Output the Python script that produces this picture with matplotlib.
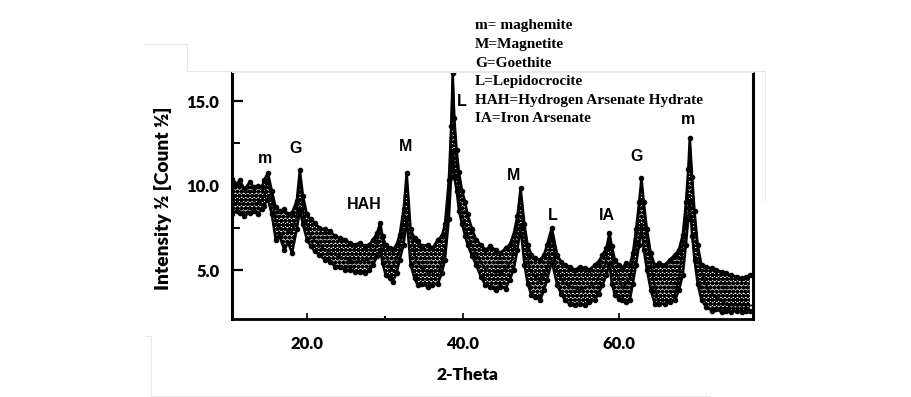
import matplotlib
matplotlib.use('Agg')
import matplotlib.pyplot as plt
from matplotlib.lines import Line2D

# XRD scan: 2-theta, upper and lower edge of the point cloud
theta = [10.4, 11.0, 11.4, 12.0, 12.7, 13.2, 13.7, 14.2, 14.5, 15.0, 15.5, 16.0, 16.5, 17.1, 17.6,
         18.1, 18.7, 19.1, 19.5, 20.0, 20.5, 21.0, 21.6, 22.3, 23.0, 23.6, 24.2, 24.9, 25.5, 26.2,
         26.8, 27.4, 28.0, 28.5, 29.0, 29.4, 29.7, 30.1, 30.6, 31.0, 31.5, 31.9, 32.4, 32.8, 33.3,
         33.8, 34.2, 34.8, 35.5, 36.1, 36.8, 37.3, 37.7, 38.2, 38.5, 38.7, 38.9, 39.2, 39.5, 39.9,
         40.3, 40.6, 41.2, 41.7, 42.3, 42.9, 43.5, 44.2, 44.8, 45.5, 46.0, 46.5, 47.0, 47.4, 47.9,
         48.3, 48.8, 49.3, 49.9, 50.4, 50.8, 51.4, 52.1, 52.6, 53.1, 53.7, 54.4, 55.0, 55.6, 56.2,
         56.9, 57.4, 57.9, 58.4, 58.8, 59.1, 59.5, 60.0, 60.4, 60.9, 61.4, 61.8, 62.2, 62.6, 62.9,
         63.2, 63.6, 64.1, 64.6, 65.2, 65.9, 66.5, 67.2, 67.7, 68.2, 68.6, 68.9, 69.1, 69.4, 69.7,
         70.1, 70.6, 71.2, 71.9, 72.5, 73.2, 73.8, 74.4, 75.1, 75.8, 76.3, 76.8]
obs_hi = [10.4, 10.1, 10.3, 9.8, 10.2, 9.9, 10.0, 9.9, 10.3, 10.75, 9.7, 8.7, 8.5, 8.6, 8.3,
          8.4, 9.1, 10.9, 9.4, 8.3, 8.0, 7.8, 7.5, 7.4, 7.3, 7.0, 6.9, 6.8, 6.6, 6.5,
          6.6, 6.4, 6.5, 6.8, 7.2, 7.8, 7.0, 6.5, 6.3, 6.2, 6.5, 7.1, 8.6, 10.75, 7.4,
          6.9, 6.7, 6.4, 6.5, 6.3, 6.8, 7.0, 7.7, 10.3, 13.5, 16.65, 14.0, 12.1, 10.8, 9.7,
          9.0, 8.3, 7.4, 6.8, 6.5, 6.2, 6.4, 6.2, 6.0, 6.3, 6.5, 7.1, 8.2, 9.85, 7.7,
          6.5, 5.9, 5.7, 5.6, 5.9, 6.5, 7.5, 5.9, 5.5, 5.3, 5.2, 5.0, 5.2, 5.1, 5.0,
          5.3, 5.5, 5.9, 6.3, 7.2, 6.4, 5.6, 5.3, 5.1, 5.4, 5.3, 6.0, 7.4, 9.0, 10.45,
          9.0, 7.4, 6.0, 5.3, 5.4, 5.3, 5.6, 5.9, 6.2, 7.1, 9.0, 11.0, 12.8, 10.5, 8.5,
          6.5, 5.3, 5.2, 5.1, 5.0, 4.9, 4.8, 4.7, 4.6, 4.5, 4.6, 4.7]
obs_lo = [8.3, 8.5, 8.4, 8.2, 8.4, 8.5, 8.3, 8.6, 8.8, 9.2, 8.3, 6.8, 7.0, 6.2, 6.6,
          6.0, 7.4, 8.5, 7.7, 6.8, 6.4, 6.1, 5.9, 5.6, 5.5, 5.2, 5.2, 5.0, 5.0, 4.9,
          4.9, 4.8, 5.0, 5.3, 5.8, 6.2, 5.4, 4.7, 4.5, 4.3, 4.8, 5.6, 6.5, 8.0, 5.3,
          4.5, 4.1, 4.2, 4.0, 4.1, 4.2, 4.8, 5.6, 8.0, 10.5, 12.0, 10.5, 9.7, 8.5, 7.7,
          7.0, 6.5, 5.8, 5.3, 4.6, 4.1, 4.0, 3.8, 4.0, 3.9, 4.4, 5.0, 6.2, 7.5, 5.3,
          4.2, 3.5, 3.4, 3.2, 3.8, 4.4, 5.5, 4.1, 3.6, 3.2, 3.0, 2.9, 3.0, 2.9, 3.1,
          3.2, 3.6, 4.1, 4.7, 5.3, 4.2, 3.5, 3.3, 3.2, 3.1, 3.2, 4.2, 5.3, 6.5, 7.5,
          6.2, 5.0, 3.8, 3.0, 3.0, 3.0, 3.1, 3.2, 3.8, 4.7, 6.5, 8.0, 9.0, 7.0, 5.6,
          4.2, 3.2, 2.8, 2.6, 2.7, 2.5, 2.6, 2.5, 2.6, 2.5, 2.6, 2.6]

# fitted profile
fit_theta = [10.4, 12.7, 14.0, 14.6, 15.0, 15.6, 16.2, 18.0, 18.7, 19.1, 19.6, 20.5, 22.0, 24.0,
             26.0, 28.0, 28.9, 29.4, 29.9, 30.8, 31.8, 32.4, 32.8, 33.2, 34.0, 35.5, 37.0, 37.8,
             38.3, 38.7, 39.1, 39.6, 40.5, 41.7, 43.0, 45.0, 46.3, 47.0, 47.4, 47.8, 48.6, 49.9,
             50.9, 51.4, 51.9, 53.0, 55.0, 57.0, 58.3, 58.8, 59.3, 60.5, 61.5, 62.3, 62.9, 63.5,
             64.5, 65.0, 67.0, 67.7, 68.6, 69.1, 69.6, 70.5, 71.5, 72.7, 74.0, 77.0]
fit_int = [9.0, 8.9, 9.0, 9.5, 10.4, 8.9, 7.6, 7.2, 8.2, 10.7, 8.2, 7.0, 6.3, 5.8,
           5.5, 5.6, 6.4, 7.6, 6.2, 5.0, 6.0, 8.0, 10.6, 7.6, 5.5, 4.8, 5.0, 6.5,
           10.5, 16.5, 12.0, 9.0, 7.2, 5.9, 5.0, 4.8, 5.6, 7.6, 9.7, 7.5, 5.0, 4.3,
           5.2, 7.3, 5.2, 4.2, 3.8, 4.2, 5.4, 7.0, 5.2, 3.9, 4.6, 7.0, 10.3, 7.0,
           4.3, 3.2, 3.2, 4.5, 8.0, 12.6, 8.5, 5.0, 3.8, 3.3, 2.9, 2.9]

peak_labels = ['m', 'G', 'HAH', 'M', 'L', 'M', 'L', 'IA', 'G', 'm']
label_x = [14.6, 18.6, 27.4, 32.6, 39.9, 46.5, 51.5, 58.5, 62.3, 68.85]
label_y = [11.6, 12.2, 8.85, 12.3, 14.95, 10.6, 8.25, 8.25, 11.7, 13.9]

legend_lines = ['m= maghemite', 'M=Magnetite', 'G=Goethite', 'L=Lepidocrocite',
                'HAH=Hydrogen Arsenate Hydrate', 'IA=Iron Arsenate']

plt.rcParams['hatch.linewidth'] = 1.6

fig = plt.figure(figsize=(9.12, 3.97), dpi=100)
ax = fig.add_axes([232 / 912, 78 / 397, 521 / 912, 247 / 397])

# dense cloud of measured points: hatched band between the edges
ax.fill_between(theta, obs_lo, obs_hi, facecolor='white', edgecolor='black',
                hatch='oooo', lw=0)
ax.plot(theta, obs_hi, color='black', lw=1.8, marker='o', ms=3)
ax.plot(theta, obs_lo, color='black', lw=1.8, marker='o', ms=3)
ax.plot(fit_theta, fit_int, color='black', lw=1.3)

ax.set_xlim(10.4, 77.2)
ax.set_ylim(2.1, 16.72)
ax.set_xticks([20, 40, 60])
ax.set_xticklabels(['20.0', '40.0', '60.0'])
ax.set_xticks([30], minor=True)
ax.set_yticks([5, 10, 15])
ax.set_yticklabels(['5.0', '10.0', '15.0'])
ax.set_yticks([7.5, 12.5], minor=True)

for lab in ax.get_xticklabels() + ax.get_yticklabels():
    lab.set_family('Lato')
    lab.set_fontweight('heavy')
    lab.set_fontsize(12)
ax.tick_params(axis='y', which='major', direction='in', length=8, width=1.6, pad=9)
ax.tick_params(axis='y', which='minor', direction='in', length=6, width=1.4)
ax.tick_params(axis='x', which='major', direction='in', length=4, width=1.2, pad=12)
ax.tick_params(axis='x', which='minor', direction='in', length=2, width=1.5)

for s in ['left', 'right']:
    ax.spines[s].set_linewidth(2.2)
ax.spines['bottom'].set_linewidth(2.0)
ax.spines['top'].set_color('#ebebeb')
ax.spines['top'].set_linewidth(0.8)

ax.set_xlabel('2-Theta', family='Lato', fontweight='heavy', fontsize=12.5)
ax.xaxis.set_label_coords(0.451, -0.195)
ax.set_ylabel('Intensity ½ [Count ½]', family='Lato', fontweight='heavy', fontsize=13.8)
ax.yaxis.set_label_coords(-0.115, 0.49)

for s, x, y in zip(peak_labels, label_x, label_y):
    ax.text(x, y, s, ha='center', va='center', fontsize=11.5, fontweight='bold',
            family=['Liberation Sans Narrow', 'Liberation Sans'])

for i, s in enumerate(legend_lines):
    fig.text(475 / 912, 1 - (26 + 18.6 * i) / 397, s, ha='left', va='center',
             family='Liberation Serif', fontweight='bold', fontsize=11)

# faint frame from the source image
fc = '#e8e8e8'
fig.add_artist(Line2D([145 / 912, 187 / 912, 187 / 912, 765 / 912, 765 / 912],
                      [1 - 44 / 397, 1 - 44 / 397, 1 - 71 / 397, 1 - 71 / 397, 1 - 200 / 397],
                      transform=fig.transFigure, color=fc, lw=0.8))
fig.add_artist(Line2D([145 / 912, 151 / 912, 151 / 912, 710 / 912],
                      [1 - 336 / 397, 1 - 336 / 397, 1 - 396 / 397, 1 - 396 / 397],
                      transform=fig.transFigure, color=fc, lw=0.8))

fig.savefig('out.png', dpi=100)
